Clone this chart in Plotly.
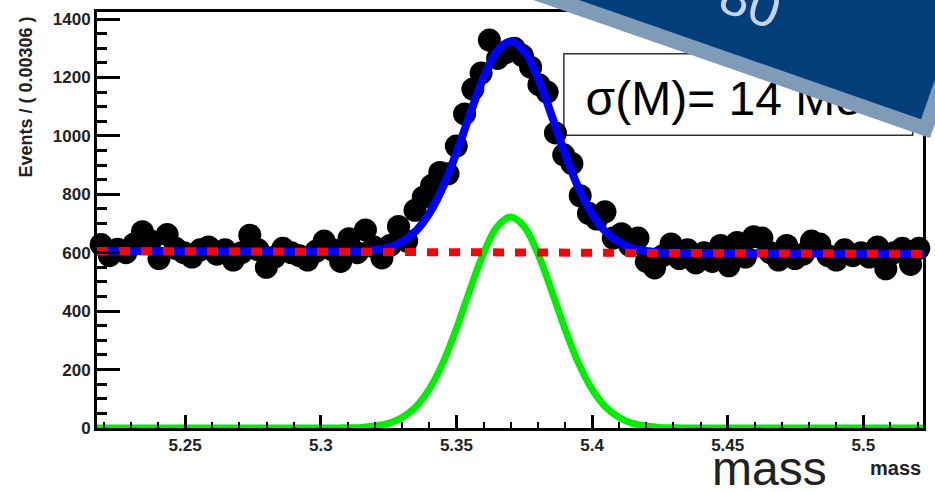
import numpy as np
import plotly.graph_objects as go

# ---------------- data ----------------
x_lo = 5.2175
bin_w = 0.003045
counts = [628, 590, 612, 600, 630, 672, 640, 580, 662, 615,
          600, 585, 610, 620, 595, 610, 575, 600, 660, 610,
          550, 585, 615, 600, 590, 575, 605, 640, 610, 570,
          648, 600, 678, 620, 582, 625, 690, 640, 745, 790,
          830, 875, 870, 965, 1075, 1160, 1215, 1328, 1265, 1285,
          1300, 1275, 1235, 1175, 1150, 1010, 935, 905, 795, 735,
          715, 740, 650, 665, 625, 650, 570, 548, 590, 630,
          580, 610, 565, 600, 570, 625, 555, 635, 585, 655,
          650, 600, 575, 625, 580, 595, 640, 630, 590, 575,
          610, 590, 600, 585, 620, 545, 600, 615, 560, 615]
mass = [x_lo + bin_w * (i + 0.5) for i in range(len(counts))]

fit_x = [5.2175, 5.300, 5.305, 5.310, 5.315, 5.320, 5.325, 5.330, 5.335, 5.340,
         5.345, 5.350, 5.355, 5.360, 5.365, 5.370, 5.375, 5.380, 5.385, 5.390,
         5.395, 5.400, 5.405, 5.410, 5.415, 5.420, 5.425, 5.430, 5.435, 5.440, 5.522]
total_fit = [606, 603, 603, 604, 605, 610, 618, 638, 674, 735,
             824, 942, 1074, 1199, 1290, 1323, 1290, 1199, 1073, 940,
             822, 733, 672, 636, 615, 606, 601, 600, 599, 599, 596]
signal_fit = [0, 0, 0, 1, 2, 7, 16, 36, 72, 133,
              222, 340, 473, 598, 689, 722, 689, 598, 473, 340,
              222, 133, 72, 36, 16, 7, 2, 1, 0, 0, 0]
bkg_x = [5.2175, 5.522]
bkg_y = [606, 596]

y_ticks = [0, 200, 400, 600, 800, 1000, 1200, 1400]
x_ticks = [5.25, 5.30, 5.35, 5.40, 5.45, 5.50]
x_ticktext = ["5.25", "5.3", "5.35", "5.4", "5.45", "5.5"]

# ---------------- figure ----------------
W, H = 935, 492
ML, MR, MT, MB = 97, 10, 9, 64
PW, PH = W - ML - MR, H - MT - MB

def px(xp):
    return (xp - ML) / PW

def py(yp):
    return (H - MB - yp) / PH

FONT = "Liberation Sans, Arial, sans-serif"

fig = go.Figure()
fig.add_trace(go.Scatter(x=mass, y=counts, mode="markers",
                         marker=dict(color="black", size=23, line=dict(width=0)),
                         cliponaxis=False, hoverinfo="skip"))
fig.add_trace(go.Scatter(x=fit_x, y=signal_fit, mode="lines",
                         line=dict(color="#00ee00", width=7, shape="spline"),
                         hoverinfo="skip"))
fig.add_trace(go.Scatter(x=fit_x, y=total_fit, mode="lines",
                         line=dict(color="#0000ff", width=8, shape="spline"),
                         hoverinfo="skip"))
fig.add_trace(go.Scatter(x=bkg_x, y=bkg_y, mode="lines",
                         line=dict(color="#ff0000", width=8, dash="11px,11px"),
                         hoverinfo="skip"))
# sigma text inside the box (as a trace so the banner can cover it)
fig.add_trace(go.Scatter(x=[5.3976], y=[1111], mode="text",
                         text=["σ(M)= 14 MeV"], textposition="middle right",
                         textfont=dict(family=FONT, size=48, color="black"),
                         cliponaxis=False, hoverinfo="skip"))

shapes = [
    # text box
    dict(type="rect", xref="x", yref="y", x0=5.3896, x1=5.5182, y0=1002, y1=1281,
         line=dict(color="#333333", width=1.5), fillcolor="white", layer="below"),
    # banner light border
    dict(type="path", xref="paper", yref="paper", layer="above",
         path=f"M {px(486)},{py(-20)} L {px(932)},{py(136)} L {px(987)},{py(-20)} Z",
         fillcolor="#7f9bb7", line=dict(width=0)),
    # banner dark body
    dict(type="path", xref="paper", yref="paper", layer="above",
         path=f"M {px(532)},{py(-20)} L {px(923)},{py(117)} L {px(971)},{py(-20)} Z",
         fillcolor="#013e7a", line=dict(width=0)),
]

annotations = [
    dict(text="Events / ( 0.00306 )", xref="paper", yref="paper",
         x=px(26), y=py(95), textangle=-90, showarrow=False,
         xanchor="center", yanchor="middle",
         font=dict(family=FONT, size=18, color="#222", weight="bold")),
    dict(text="mass", xref="paper", yref="paper", x=px(771), y=py(469),
         showarrow=False, xanchor="center", yanchor="middle",
         font=dict(family=FONT, size=48, color="#222")),
    dict(text="mass", xref="paper", yref="paper", x=px(897), y=py(468),
         showarrow=False, xanchor="center", yanchor="middle",
         font=dict(family=FONT, size=20, color="#222", weight="bold")),
    dict(text="-80", xref="paper", yref="paper", x=px(744), y=py(-4),
         showarrow=False, xanchor="center", yanchor="middle", textangle=19.3,
         font=dict(family=FONT, size=54, color="#c5d3e4")),
]

fig.update_layout(
    width=W, height=H, margin=dict(l=ML, r=MR, t=MT, b=MB, pad=0),
    paper_bgcolor="white", plot_bgcolor="white", showlegend=False,
    shapes=shapes, annotations=annotations,
    xaxis=dict(range=[5.2175, 5.522], showgrid=False, zeroline=False,
               showline=True, linecolor="black", linewidth=3, mirror=True,
               ticks="inside", ticklen=13, tickwidth=2.5, tickcolor="black",
               tickvals=x_ticks, ticktext=x_ticktext,
               tickfont=dict(family=FONT, size=17, color="#222", weight="bold"),
               minor=dict(ticks="inside", ticklen=6, tickwidth=2, tickcolor="black",
                          dtick=0.01, tick0=5.25, showgrid=False)),
    yaxis=dict(range=[0, 1424], showgrid=False, zeroline=False,
               showline=True, linecolor="black", linewidth=3, mirror=True,
               ticks="inside", ticklen=23, tickwidth=2.5, tickcolor="black",
               tickvals=y_ticks,
               tickfont=dict(family=FONT, size=17, color="#222", weight="bold"),
               minor=dict(ticks="inside", ticklen=10, tickwidth=2.5, tickcolor="black",
                          dtick=50, tick0=0, showgrid=False)),
)

fig.write_html("out.html")
